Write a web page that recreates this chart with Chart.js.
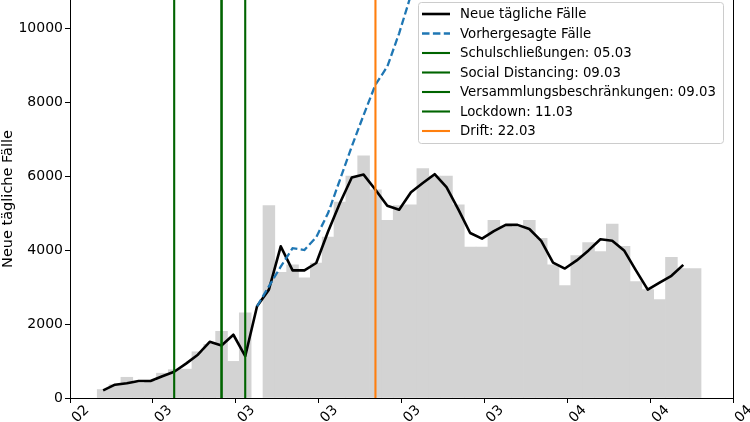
<!DOCTYPE html>
<html>
<head>
<meta charset="UTF-8">
<title>Neue tägliche Fälle</title>
<script src="https://cdn.jsdelivr.net/npm/chart.js@4.4.1/dist/chart.umd.min.js"></script>
<style>
  body { margin: 0; background: #fff; }
</style>
</head>
<body>
<canvas id="casesChart" width="750" height="422"></canvas>
<script>
// days counted from 1 = 01.03.
const barDays = [-1, 0, 1, 2, 3, 4, 5, 6, 7, 8, 9, 10, 11, 12, 13, 14, 15, 16, 17, 18, 19, 20,
  21, 22, 23, 24, 25, 26, 27, 28, 29, 30, 31, 32, 33, 34, 35, 36, 37, 38, 39, 40,
  41, 42, 43, 44, 45, 46, 47, 48, 49];
const barCases = [230, 360, 560, 400, 450, 670, 765, 780, 1250, 1450, 1800, 990, 2300, null, 5200, 3400,
  3600, 3250, 3650, 4350, 5300, 6000, 6550, 5630, 4800, 5200, 5220, 6200, 6000, 6000, 5220,
  4080, 4080, 4800, 4650, 4620, 4800, 4320, 3600, 3040, 3850, 4200, 3960, 4700, 4100, 3150,
  2930, 2660, 3800, 3500, 3500];

const lineDays = [-1, 0, 1, 2, 3, 4, 5, 6, 7, 8, 9, 10, 11, 12, 13, 14, 15, 16, 17, 18, 19, 20,
  21, 22, 23, 24, 25, 26, 27, 28, 29, 30, 31, 32, 33, 34, 35, 36, 37, 38, 39, 40,
  41, 42, 43, 44, 45, 46, 47, 48];
const lineCases = [205, 360, 400, 460, 460, 590, 710, 930, 1170, 1520, 1420, 1710, 1130, 2480, 2930,
  4100, 3450, 3450, 3650, 4500, 5270, 5960, 6040, 5630, 5200, 5090, 5560, 5810, 6050, 5700,
  5100, 4460, 4310, 4510, 4680, 4680, 4570, 4250, 3660, 3500, 3720, 3990, 4290, 4250, 3990,
  3450, 2930, 3120, 3305, 3600];

const forecastDays = [12, 13, 14, 15, 16, 17, 18, 19, 20, 21, 22, 23, 24, 25, 26];
const forecastCases = [2480, 3020, 3550, 4050, 4000, 4350, 5000, 5900, 6800, 7650, 8470, 8960, 9860, 10900, 12000];

const seriesLabels = ['Neue tägliche Fälle', 'Vorhergesagte Fälle'];
const measureLabels = ['Schulschließungen: 05.03', 'Social Distancing: 09.03',
  'Versammlungsbeschränkungen: 09.03', 'Lockdown: 11.03', 'Drift: 22.03'];
const measureDays = [5, 9, 9, 11, 22];

const xTicks = [-3.8, 3.2, 10.2, 17.2, 24.2, 31.2, 38.2, 45.2, 52.2];
const xTickLabels = ['02', '03', '03', '03', '03', '03', '04', '04', '04'];
const yTicks = [0, 2000, 4000, 6000, 8000, 10000];
const yMax = 10760;

Chart.defaults.font.family = 'DejaVu Sans';
Chart.defaults.color = '#000';

function pts(xs, ys) {
  return xs.map((x, i) => ({ x: x, y: ys[i] }));
}

const datasets = [];
datasets.push({
  type: 'bar', data: pts(barDays, barCases), backgroundColor: '#d3d3d3',
  barPercentage: 1, categoryPercentage: 1, borderWidth: 0, order: 10, inLegend: false
});
datasets.push({
  type: 'line', label: seriesLabels[0], data: pts(lineDays, lineCases),
  borderColor: '#000000', borderWidth: 2.6, pointRadius: 0, tension: 0,
  borderJoinStyle: 'round', order: 4, inLegend: true
});
datasets.push({
  type: 'line', label: seriesLabels[1], data: pts(forecastDays, forecastCases),
  borderColor: '#1f77b4', borderWidth: 2.3, borderDash: [7.5, 3.4], pointRadius: 0, tension: 0,
  order: 3, inLegend: true
});
measureLabels.forEach((lab, i) => {
  const last = i === measureLabels.length - 1;
  datasets.push({
    type: 'line', label: lab,
    data: [{ x: measureDays[i], y: 0 }, { x: measureDays[i], y: yMax }],
    borderColor: last ? '#ff7f0e' : '#006400', borderWidth: 2.1, pointRadius: 0,
    order: last ? 1 : 2, inLegend: true
  });
});

// legend box in the upper right, like matplotlib
const boxLegend = {
  id: 'boxLegend',
  afterDatasetsDraw(chart) {
    const c = chart.ctx;
    const items = chart.data.datasets.filter(d => d.inLegend);
    c.save();
    c.beginPath();
    c.roundRect(418.5, 2.5, 305, 141, 3);
    c.fillStyle = 'rgba(255,255,255,0.8)';
    c.fill();
    c.strokeStyle = '#cccccc';
    c.lineWidth = 1;
    c.stroke();
    c.font = '13.3px "DejaVu Sans"';
    c.textBaseline = 'middle';
    items.forEach((d, i) => {
      const y = 14 + i * 19.5;
      c.beginPath();
      c.setLineDash(d.borderDash || []);
      c.strokeStyle = d.borderColor;
      c.lineWidth = d.borderWidth;
      c.moveTo(422, y);
      c.lineTo(450, y);
      c.stroke();
      c.setLineDash([]);
      c.fillStyle = '#000';
      c.fillText(d.label, 460, y + 1);
    });
    c.restore();
  },
  afterDraw(chart) {
    const a = chart.chartArea;
    const c = chart.ctx;
    c.save();
    c.strokeStyle = '#000';
    c.lineWidth = 1;
    c.beginPath();
    c.moveTo(Math.round(a.right) + 0.5, a.top);
    c.lineTo(Math.round(a.right) + 0.5, a.bottom);
    c.stroke();
    c.restore();
  }
};

new Chart(document.getElementById('casesChart'), {
  type: 'bar',
  data: { datasets: datasets },
  options: {
    responsive: false,
    animation: false,
    devicePixelRatio: 1,
    layout: { padding: { left: 0, right: 17, top: 0, bottom: 0 } },
    plugins: { legend: { display: false }, tooltip: { enabled: false } },
    scales: {
      x: {
        type: 'linear', min: xTicks[0], max: xTicks[xTicks.length - 1], offset: false,
        grid: { drawOnChartArea: false, drawTicks: true, tickLength: 5, color: '#000', offset: false },
        border: { color: '#000' },
        ticks: {
          font: { size: 14 }, minRotation: 45, maxRotation: 45, labelOffset: 17, padding: -1,
          autoSkip: false, callback: (v, i) => xTickLabels[i]
        },
        afterBuildTicks: s => { s.ticks = xTicks.map(v => ({ value: v })); },
        afterFit: s => { s.height = 24; s.paddingLeft = 0; s.paddingRight = 0; }
      },
      y: {
        min: 0, max: yMax,
        grid: { drawOnChartArea: false, drawTicks: true, tickLength: 5, color: '#000' },
        border: { color: '#000' },
        ticks: { font: { size: 14 }, padding: 2, callback: v => String(v) },
        afterBuildTicks: s => { s.ticks = yTicks.map(v => ({ value: v })); },
        title: { display: true, text: seriesLabels[0], font: { size: 14.5 }, padding: { top: 0, bottom: 0 } },
        afterFit: s => { s.width = 70; s.paddingTop = 0; s.paddingBottom = 0; }
      }
    }
  },
  plugins: [boxLegend]
});
</script>
</body>
</html>
